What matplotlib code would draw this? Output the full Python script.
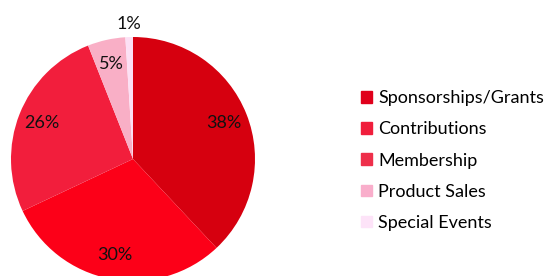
import numpy as np
import matplotlib
matplotlib.use("Agg")
import matplotlib.pyplot as plt

plt.rcParams['font.family'] = ['Lato', 'DejaVu Sans']

categories = ["Sponsorships/Grants", "Contributions", "Membership", "Product Sales", "Special Events"]
shares = [38, 30, 26, 5, 1]
wedge_colors = ["#D6000F", "#FC0018", "#F21E3C", "#F9AFC6", "#FCE0F4"]
legend_colors = ["#E0001B", "#F01E3C", "#EE2F4A", "#F9AECB", "#FDE3F8"]

fig = plt.figure(figsize=(5.5, 2.76), dpi=100)
# pie axes placed in pixels: centre (133,159), radius 122
ax = fig.add_axes([11 / 550, -5 / 276, 244 / 550, 244 / 276])
wedges, texts, autotexts = ax.pie(shares, colors=wedge_colors, startangle=90,
                                  counterclock=False, autopct='%d%%',
                                  pctdistance=0.8,
                                  textprops={'fontsize': 13, 'color': '#111111'})
ax.set_xlim(-1, 1)
ax.set_ylim(-1, 1)
ax.set_aspect('auto')

# smallest slice label sits outside the pie
w = wedges[-1]
mid = np.deg2rad((w.theta1 + w.theta2) / 2)
autotexts[-1].set_position((1.11 * np.cos(mid), 1.11 * np.sin(mid)))

handles = [plt.Rectangle((0, 0), 1, 1, color=c) for c in legend_colors]
fig.legend(handles, categories, loc='upper left', bbox_to_anchor=(354 / 550, 1 - 83 / 276),
           frameon=False, fontsize=13, handlelength=0.6, handleheight=0.6,
           handletextpad=0.35, labelspacing=0.84, borderaxespad=0)

fig.savefig("out.png", dpi=100)
